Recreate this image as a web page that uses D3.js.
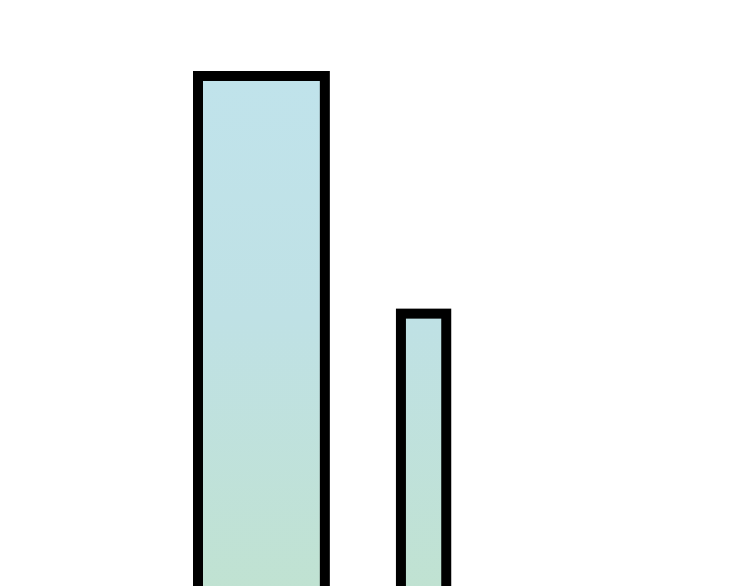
<!DOCTYPE html>
<html>
<head>
<meta charset="utf-8">
<script src="https://cdn.jsdelivr.net/npm/d3@7"></script>
<style>
  html, body { margin: 0; padding: 0; background: #fff; overflow: hidden; }
</style>
</head>
<body>
<div id="chart"></div>
<script>
"use strict";

// data
var categories = ["A", "B"];
var values = [100, 55.5];      // bar heights
var widths = [2.8, 1];         // relative bar widths

// layout
var W = 750, H = 586;
var baseline = 610;            // bars run past the bottom edge
var topY = 76;
var left = 198, unit = 45.3, gap = 1.68;

var y = d3.scaleLinear().domain([0, 100]).range([baseline, topY]);
var x = d3.scaleLinear().domain([0, 1]).range([left, left + unit]);

// start position of each bar in width units
var starts = [];
var acc = 0;
widths.forEach(function(w, i) {
  starts.push(acc);
  acc += w + gap;
});

var svg = d3.select("#chart").append("svg")
  .attr("width", W)
  .attr("height", H);

// shared vertical gradient, blue on top fading to mint below
var grad = svg.append("defs").append("linearGradient")
  .attr("id", "barGrad")
  .attr("gradientUnits", "userSpaceOnUse")
  .attr("x1", 0).attr("x2", 0)
  .attr("y1", topY).attr("y2", baseline);
grad.append("stop").attr("offset", "0").attr("stop-color", "#c0e3eb");
grad.append("stop").attr("offset", "0.45").attr("stop-color", "#bfe1e5");
grad.append("stop").attr("offset", "1").attr("stop-color", "#c0e2d0");

svg.selectAll("rect.bar")
  .data(categories)
  .enter().append("rect")
  .attr("class", "bar")
  .attr("x", function(d, i) { return x(starts[i]); })
  .attr("width", function(d, i) { return x(starts[i] + widths[i]) - x(starts[i]); })
  .attr("y", function(d, i) { return y(values[i]); })
  .attr("height", function(d, i) { return baseline - y(values[i]); })
  .style("fill", "url(#barGrad)")
  .style("stroke", "#000")
  .style("stroke-width", 10);
</script>
</body>
</html>
